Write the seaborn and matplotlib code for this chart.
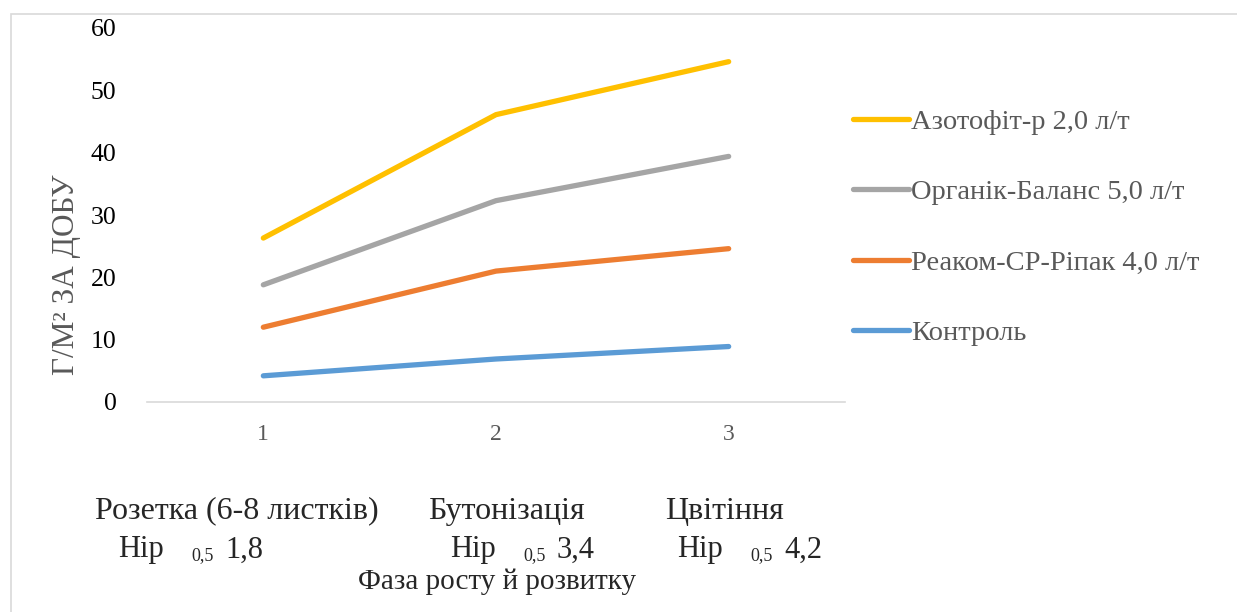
import pandas as pd
import seaborn as sns
import matplotlib.pyplot as plt
from matplotlib.patches import Rectangle

# data
phases = [1, 2, 3]
azotofit = [26.3, 46.1, 54.6]
organik = [18.8, 32.3, 39.4]
reakom = [12.0, 21.0, 24.6]
kontrol = [4.2, 6.9, 8.9]
variants = ["Азотофіт-р 2,0 л/т", "Органік-Баланс 5,0 л/т", "Реаком-СР-Ріпак 4,0 л/т", "Контроль"]
colors = ["#FFC000", "#A5A5A5", "#ED7D31", "#5B9BD5"]
phase_names = ["Розетка (6-8 листків)", "Бутонізація", "Цвітіння"]
nir_values = ["1,8", "3,4", "4,2"]

rows = []
for name, vals in zip(variants, [azotofit, organik, reakom, kontrol]):
    for p, v in zip(phases, vals):
        rows.append({"phase": p, "value": v, "variant": name})
df = pd.DataFrame(rows)

sns.set_style("white")
plt.rcParams['font.family'] = ['Liberation Serif', 'DejaVu Serif']

fig = plt.figure(figsize=(12.37, 6.12), dpi=100)
ax = fig.add_axes([147/1237, 1-402/612, (845-147)/1237, (402-28)/612])

sns.lineplot(data=df, x="phase", y="value", hue="variant", hue_order=variants,
             palette=colors, linewidth=3.8, ax=ax, solid_capstyle="round")

ax.set_xlim(0.5, 3.5)
ax.set_ylim(0, 60)
ax.set_yticks(range(0, 61, 10))
ax.set_xticks(phases)
ax.tick_params(axis="y", labelsize=18.5, labelcolor="black", length=0, pad=22)
ax.tick_params(axis="x", labelsize=17, labelcolor="#595959", length=0, pad=16)
for s in ["top", "right", "left"]:
    ax.spines[s].set_visible(False)
ax.spines["bottom"].set_color("#D9D9D9")
ax.spines["bottom"].set_linewidth(1.2)
ax.set_xlabel("")
ax.set_ylabel("Г/М² ЗА ДОБУ", fontsize=22.5, color="#595959")
ax.yaxis.set_label_coords(-0.094, 0.34)

leg = ax.legend(loc="upper left", bbox_to_anchor=(853/1237, 1-109/612),
                bbox_transform=fig.transFigure, frameon=False, fontsize=20.5,
                handlelength=1.95, handletextpad=0.1, labelspacing=1.56,
                borderaxespad=0, borderpad=0)
for t in leg.get_texts():
    t.set_color("#595959")
for h in leg.get_lines():
    h.set_linewidth(3.8)
    h.set_solid_capstyle("round")

# phase names and НІР under the axis
name_x = [237, 506, 725]
for x, name in zip(name_x, phase_names):
    fig.text(x/1237, 1-511/612, name, ha="center", va="center", fontsize=23)
nir_x = [118, 450, 677]
for x, val in zip(nir_x, nir_values):
    fig.text(x/1237, 1-550/612, "Нір", ha="left", va="center", fontsize=22)
    fig.text((x+73)/1237, 1-556/612, "0,5", ha="left", va="center", fontsize=13)
    fig.text((x+107)/1237, 1-550/612, val, ha="left", va="center", fontsize=22)
fig.text(497/1237, 1-582/612, "Фаза росту й розвитку", ha="center", va="center", fontsize=21)

# chart frame
fig.patches.append(Rectangle((11/1237, -0.1), 1.2, 1-14/612+0.1, transform=fig.transFigure,
                             fill=False, edgecolor="#D9D9D9", linewidth=1.2))

fig.savefig("out.png", dpi=100)
